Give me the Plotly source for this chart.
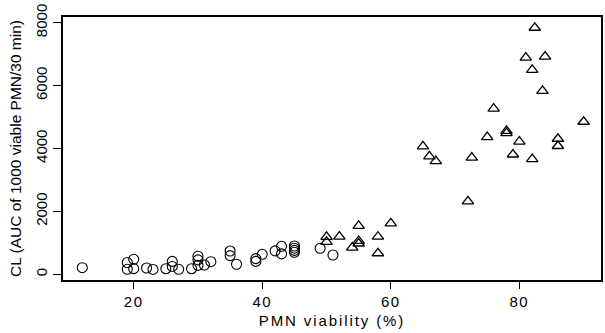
import plotly.graph_objects as go

# Group 1 (open circles): PMN viability (%) and CL values
circle_x = [12, 19, 19, 20, 20, 22, 23, 25, 26, 26, 27, 29, 30, 30, 30, 31, 32,
            35, 35, 36, 39, 39, 40, 42, 43, 43, 45, 45, 45, 45, 49, 51]
circle_y = [210, 375, 160, 477, 180, 200, 155, 178, 410, 250, 159, 178, 575, 460, 285, 296, 401,
            740, 595, 320, 500, 410, 636, 745, 890, 650, 900, 830, 760, 700, 827, 614]

# Group 2 (open triangles)
tri_x = [50, 50, 52, 54, 55, 55, 55, 58, 58, 60,
         65, 66, 67, 72, 72.6, 75, 76, 78, 78, 79,
         80, 81, 82, 82, 82.4, 83.6, 84, 86, 86, 90]
tri_y = [1190, 1030, 1200, 850, 1540, 1060, 980, 1195, 670, 1620,
         4070, 3750, 3600, 2320, 3710, 4360, 5270, 4560, 4490, 3810,
         4220, 6890, 6500, 3660, 7840, 5830, 6920, 4310, 4080, 4850]

x_ticks = [20, 40, 60, 80]
y_ticks = [0, 2000, 4000, 6000, 8000]

FONT = "Liberation Sans, Arial, sans-serif"

def spaced(text, px):
    return f'<span style="letter-spacing:{px}px">{text}</span>'

fig = go.Figure()
fig.add_trace(go.Scatter(
    x=circle_x, y=circle_y, mode="markers",
    marker=dict(symbol="circle-open", size=10, color="black", line=dict(width=1.1)),
    showlegend=False))
fig.add_trace(go.Scatter(
    x=tri_x, y=tri_y, mode="markers",
    marker=dict(symbol="triangle-up-open", size=10, color="black", line=dict(width=1.3)),
    showlegend=False))

fig.update_layout(
    width=605, height=333,
    margin=dict(l=63, r=2, t=17, b=53),
    paper_bgcolor="white", plot_bgcolor="white",
    font=dict(family=FONT, color="black", size=14),
)
fig.update_xaxes(
    range=[9.0, 92.7], tickvals=x_ticks, ticktext=[spaced(str(v), 1.5) for v in x_ticks],
    showgrid=False, zeroline=False,
    showline=True, linecolor="black", linewidth=1.5, mirror=True,
    ticks="outside", ticklen=7, tickwidth=1.3, tickcolor="black",
    tickfont=dict(size=15, family=FONT),
    title=dict(text=spaced("PMN viability (%)", 1.9), font=dict(size=15, family=FONT), standoff=7),
)
fig.update_yaxes(
    range=[-181, 8181], tickvals=y_ticks, ticktext=[str(v) for v in y_ticks],
    showgrid=False, zeroline=False,
    showline=True, linecolor="black", linewidth=1.5, mirror=True,
    ticks="outside", ticklen=8, tickwidth=1.3, tickcolor="black",
    tickangle=-90,
    tickfont=dict(size=15, family=FONT),
    title=dict(text="CL (AUC of 1000 viable PMN/30 min)", font=dict(size=15.5, family=FONT), standoff=8),
)

fig.write_html("out.html")
